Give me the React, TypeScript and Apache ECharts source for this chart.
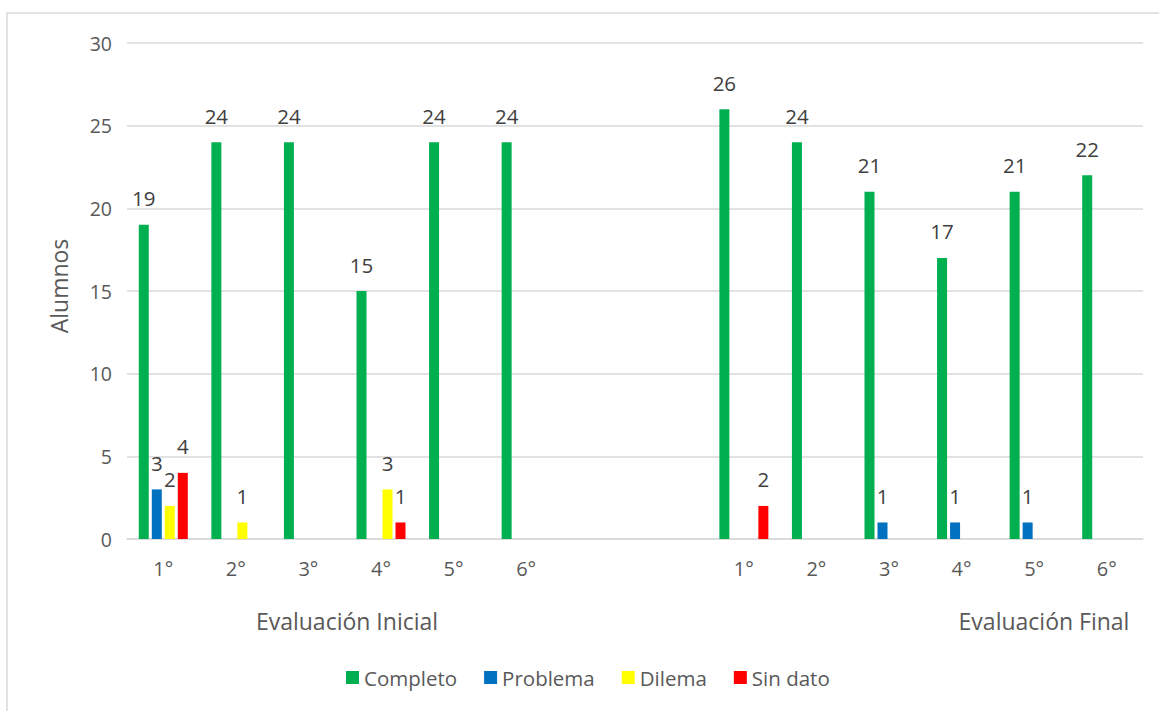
import React, { useEffect, useRef } from "react";
import * as echarts from "echarts";

const categories = ["1°", "2°", "3°", "4°", "5°", "6°", " ", "  ", "1°", "2°", "3°", "4°", "5°", "6°"];
const completo = [19, 24, 24, 15, 24, 24, null, null, 26, 24, 21, 17, 21, 22];
const problema = [3, 0, 0, 0, 0, 0, null, null, 0, 0, 1, 1, 1, 0];
const dilema = [2, 1, 0, 3, 0, 0, null, null, 0, 0, 0, 0, 0, 0];
const sinDato = [4, 0, 0, 1, 0, 0, null, null, 2, 0, 0, 0, 0, 0];
const seriesNames = ["Completo", "Problema", "Dilema", "Sin dato"];
const seriesColors = ["#00B050", "#0070C0", "#FFFF00", "#FF0000"];
const groupLabels = ["Evaluación Inicial", "Evaluación Final"];
const yTicks = { min: 0, max: 30, interval: 5 };

const FONT = "'Open Sans', sans-serif";

export default function App() {
  const ref = useRef<HTMLDivElement>(null);
  useEffect(() => {
    if (!ref.current) return;
    const chart = echarts.init(ref.current, null, { renderer: "svg" });
    const values = [completo, problema, dilema, sinDato];
    chart.setOption({
      animation: false,
      backgroundColor: "#ffffff",
      textStyle: { fontFamily: FONT },
      grid: { left: 127, right: 16, top: 43, bottom: 172, containLabel: false },
      xAxis: {
        type: "category",
        data: categories,
        axisLine: { lineStyle: { color: "#d9d9d9", width: 1.5 } },
        axisTick: { show: false },
        axisLabel: { interval: 0, color: "#595959", fontSize: 20, fontFamily: FONT, margin: 19 },
      },
      yAxis: {
        type: "value",
        min: yTicks.min,
        max: yTicks.max,
        interval: yTicks.interval,
        axisLine: { show: false },
        axisTick: { show: false },
        splitLine: { lineStyle: { color: "#d9d9d9", width: 1.5 } },
        axisLabel: { color: "#595959", fontSize: 19.5, fontFamily: FONT, margin: 15 },
      },
      legend: {
        bottom: 18,
        left: 341,
        itemWidth: 13,
        itemHeight: 13,
        itemGap: 27,
        icon: "rect",
        textStyle: { color: "#595959", fontSize: 20.5, fontFamily: FONT },
        data: seriesNames,
      },
      series: seriesNames.map((name, i) => ({
        name,
        type: "bar",
        data: values[i],
        barWidth: 10,
        barGap: "30%",
        itemStyle: { color: seriesColors[i] },
        label: {
          show: true,
          position: "top",
          distance: 16,
          color: "#404040",
          fontSize: 20.5,
          fontFamily: FONT,
          formatter: (p: any) => (p.value ? String(p.value) : ""),
        },
      })),
      graphic: [
        {
          type: "rect",
          shape: { x: 7, y: 13, width: 1160, height: 710 },
          style: { fill: "none", stroke: "#d9d9d9", lineWidth: 1.5 },
          silent: true,
          z: -1,
        },
        {
          type: "text",
          x: 59,
          y: 286,
          rotation: Math.PI / 2,
          style: { text: "Alumnos", fill: "#595959", fontSize: 23, fontFamily: FONT, align: "center", verticalAlign: "middle" },
        },
        {
          type: "text",
          x: 347,
          y: 621,
          style: { text: groupLabels[0], fill: "#595959", fontSize: 23, fontFamily: FONT, align: "center", verticalAlign: "middle" },
        },
        {
          type: "text",
          x: 1044,
          y: 621,
          style: { text: groupLabels[1], fill: "#595959", fontSize: 23, fontFamily: FONT, align: "center", verticalAlign: "middle" },
        },
      ],
    });
    return () => chart.dispose();
  }, []);
  return <div ref={ref} style={{ position: "absolute", left: 0, top: 0, width: 1159, height: 711 }} />;
}
